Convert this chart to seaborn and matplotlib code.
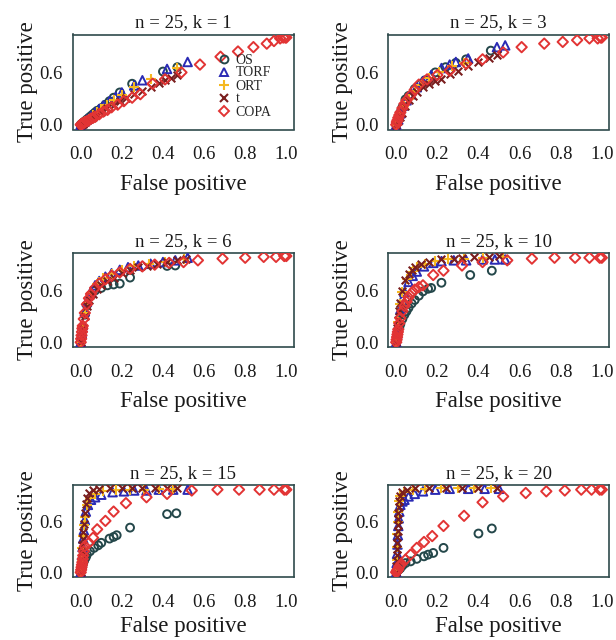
import matplotlib
matplotlib.use("Agg")
import matplotlib.pyplot as plt
from matplotlib.lines import Line2D
import seaborn as sns
import pandas as pd

# ---------------- data ----------------
methods = ["OS", "TORF", "ORT", "t", "COPA"]
k_values = [1, 3, 6, 10, 15, 20]
n_value = 25

# k = 1
k1_os_fp = [0.0, 0.005, 0.01, 0.02, 0.03, 0.04, 0.05, 0.06, 0.07, 0.08, 0.10, 0.12, 0.14, 0.16, 0.19, 0.25, 0.40, 0.47]
k1_os_tp = [0.0, 0.01, 0.02, 0.04, 0.06, 0.08, 0.10, 0.12, 0.14, 0.16, 0.19, 0.23, 0.27, 0.31, 0.37, 0.47, 0.61, 0.66]
k1_torf_fp = [0.0, 0.01, 0.02, 0.03, 0.05, 0.07, 0.09, 0.11, 0.14, 0.17, 0.20, 0.26, 0.30, 0.42, 0.52]
k1_torf_tp = [0.0, 0.02, 0.04, 0.06, 0.10, 0.14, 0.18, 0.22, 0.27, 0.32, 0.37, 0.45, 0.51, 0.64, 0.72]
k1_ort_fp = [0.0, 0.01, 0.02, 0.04, 0.06, 0.08, 0.10, 0.13, 0.16, 0.20, 0.26, 0.34, 0.47]
k1_ort_tp = [0.0, 0.02, 0.04, 0.07, 0.11, 0.15, 0.18, 0.23, 0.28, 0.34, 0.43, 0.53, 0.65]
k1_t_fp = [0.0, 0.01, 0.02, 0.04, 0.06, 0.08, 0.10, 0.13, 0.16, 0.19, 0.22, 0.26, 0.30, 0.34, 0.38, 0.41, 0.44, 0.47]
k1_t_tp = [0.0, 0.01, 0.03, 0.06, 0.09, 0.12, 0.15, 0.19, 0.23, 0.27, 0.31, 0.35, 0.39, 0.43, 0.48, 0.51, 0.54, 0.57]
k1_copa_fp = [0.0, 0.003, 0.006, 0.01, 0.015, 0.02, 0.03, 0.04, 0.05, 0.06, 0.07, 0.09, 0.11, 0.13, 0.15, 0.18, 0.21, 0.25, 0.29, 0.35, 0.41, 0.49, 0.58, 0.68, 0.765, 0.84, 0.905, 0.94, 0.97, 0.985, 0.995, 1.0]
k1_copa_tp = [0.0, 0.005, 0.01, 0.015, 0.02, 0.03, 0.04, 0.05, 0.07, 0.08, 0.09, 0.12, 0.15, 0.17, 0.20, 0.23, 0.27, 0.31, 0.35, 0.47, 0.52, 0.60, 0.69, 0.78, 0.84, 0.89, 0.93, 0.96, 0.99, 1.0, 1.0, 1.0]

# k = 3
k3_os_fp = [0.0, 0.005, 0.01, 0.015, 0.02, 0.03, 0.045, 0.06, 0.09, 0.12, 0.14, 0.19, 0.24, 0.29, 0.34, 0.46]
k3_os_tp = [0.0, 0.03, 0.07, 0.10, 0.14, 0.20, 0.29, 0.33, 0.41, 0.47, 0.51, 0.60, 0.66, 0.71, 0.75, 0.85]
k3_torf_fp = [0.0, 0.01, 0.02, 0.035, 0.05, 0.07, 0.10, 0.13, 0.17, 0.22, 0.26, 0.29, 0.35, 0.49, 0.53]
k3_torf_tp = [0.0, 0.06, 0.13, 0.22, 0.28, 0.35, 0.43, 0.50, 0.57, 0.65, 0.69, 0.72, 0.76, 0.89, 0.91]
k3_ort_fp = [0.0, 0.01, 0.02, 0.04, 0.06, 0.09, 0.12, 0.16, 0.21, 0.27, 0.33]
k3_ort_tp = [0.0, 0.05, 0.11, 0.21, 0.30, 0.39, 0.46, 0.54, 0.61, 0.67, 0.71]
k3_t_fp = [0.0, 0.01, 0.02, 0.03, 0.045, 0.06, 0.08, 0.10, 0.13, 0.16, 0.19, 0.22, 0.26, 0.30, 0.35, 0.40, 0.45, 0.49]
k3_t_tp = [0.0, 0.04, 0.09, 0.14, 0.22, 0.28, 0.33, 0.38, 0.43, 0.47, 0.50, 0.53, 0.58, 0.62, 0.67, 0.72, 0.76, 0.80]
k3_copa_fp = [0.0, 0.003, 0.006, 0.01, 0.015, 0.02, 0.03, 0.04, 0.05, 0.07, 0.09, 0.11, 0.15, 0.20, 0.26, 0.34, 0.42, 0.52, 0.61, 0.72, 0.81, 0.88, 0.94, 0.98, 0.995, 1.0]
k3_copa_tp = [0.0, 0.03, 0.05, 0.08, 0.11, 0.14, 0.19, 0.24, 0.28, 0.34, 0.40, 0.46, 0.52, 0.57, 0.62, 0.70, 0.75, 0.83, 0.89, 0.93, 0.95, 0.97, 0.99, 0.99, 1.0, 1.0]

# k = 6
k6_os_fp = [0.0, 0.005, 0.01, 0.02, 0.03, 0.05, 0.07, 0.10, 0.13, 0.16, 0.19, 0.24, 0.42, 0.46]
k6_os_tp = [0.0, 0.08, 0.17, 0.32, 0.43, 0.54, 0.60, 0.63, 0.66, 0.67, 0.68, 0.75, 0.885, 0.89]
k6_torf_fp = [0.0, 0.005, 0.01, 0.02, 0.03, 0.05, 0.07, 0.09, 0.12, 0.15, 0.19, 0.23, 0.28, 0.34, 0.40, 0.46, 0.52]
k6_torf_tp = [0.0, 0.10, 0.20, 0.36, 0.47, 0.59, 0.66, 0.71, 0.76, 0.80, 0.84, 0.87, 0.89, 0.91, 0.93, 0.95, 0.98]
k6_ort_fp = [0.0, 0.01, 0.02, 0.03, 0.05, 0.08, 0.11, 0.15, 0.20, 0.26, 0.33, 0.41, 0.50]
k6_ort_tp = [0.0, 0.19, 0.34, 0.45, 0.57, 0.68, 0.74, 0.79, 0.84, 0.88, 0.91, 0.93, 0.96]
k6_t_fp = [0.0, 0.005, 0.01, 0.02, 0.03, 0.04, 0.06, 0.08, 0.10, 0.13, 0.16, 0.20, 0.24, 0.28, 0.32, 0.37, 0.42, 0.47, 0.51]
k6_t_tp = [0.0, 0.08, 0.16, 0.30, 0.42, 0.49, 0.56, 0.62, 0.66, 0.71, 0.75, 0.80, 0.84, 0.87, 0.89, 0.91, 0.93, 0.95, 0.97]
k6_copa_fp = [0.0, 0.002, 0.004, 0.006, 0.008, 0.01, 0.015, 0.02, 0.03, 0.04, 0.05, 0.07, 0.09, 0.12, 0.15, 0.19, 0.24, 0.30, 0.36, 0.43, 0.50, 0.57, 0.69, 0.80, 0.89, 0.95, 0.99, 1.0]
k6_copa_tp = [0.0, 0.04, 0.08, 0.12, 0.16, 0.19, 0.27, 0.34, 0.44, 0.51, 0.56, 0.63, 0.68, 0.73, 0.77, 0.81, 0.85, 0.88, 0.90, 0.92, 0.93, 0.95, 0.97, 0.98, 0.99, 0.99, 1.0, 1.0]

# k = 10
k10_os_fp = [0.0, 0.003, 0.006, 0.01, 0.015, 0.02, 0.03, 0.04, 0.05, 0.06, 0.075, 0.09, 0.11, 0.13, 0.155, 0.17, 0.22, 0.36, 0.465]
k10_os_tp = [0.0, 0.04, 0.08, 0.12, 0.17, 0.21, 0.27, 0.32, 0.36, 0.40, 0.45, 0.49, 0.54, 0.59, 0.62, 0.63, 0.69, 0.78, 0.83]
k10_torf_fp = [0.0, 0.005, 0.01, 0.02, 0.03, 0.04, 0.06, 0.08, 0.10, 0.135, 0.18, 0.22, 0.28, 0.34, 0.42, 0.48, 0.53]
k10_torf_tp = [0.0, 0.10, 0.20, 0.38, 0.50, 0.58, 0.70, 0.77, 0.82, 0.88, 0.92, 0.94, 0.95, 0.95, 0.96, 0.96, 0.96]
k10_ort_fp = [0.0, 0.01, 0.02, 0.03, 0.05, 0.07, 0.10, 0.14, 0.19, 0.25, 0.33, 0.42, 0.52]
k10_ort_tp = [0.0, 0.24, 0.44, 0.58, 0.73, 0.81, 0.87, 0.91, 0.94, 0.96, 0.97, 0.98, 0.99]
k10_t_fp = [0.0, 0.003, 0.006, 0.01, 0.015, 0.02, 0.03, 0.045, 0.06, 0.075, 0.09, 0.12, 0.16, 0.22, 0.28, 0.32, 0.38, 0.45, 0.50]
k10_t_tp = [0.0, 0.08, 0.16, 0.26, 0.36, 0.46, 0.60, 0.72, 0.79, 0.84, 0.87, 0.91, 0.93, 0.96, 0.97, 0.98, 0.99, 0.99, 1.0]
k10_copa_fp = [0.0, 0.002, 0.004, 0.006, 0.008, 0.01, 0.015, 0.02, 0.03, 0.04, 0.05, 0.06, 0.075, 0.09, 0.11, 0.13, 0.18, 0.23, 0.32, 0.42, 0.54, 0.66, 0.77, 0.87, 0.94, 0.99, 1.0]
k10_copa_tp = [0.0, 0.03, 0.06, 0.09, 0.12, 0.15, 0.22, 0.28, 0.36, 0.42, 0.47, 0.52, 0.57, 0.61, 0.64, 0.66, 0.78, 0.83, 0.89, 0.93, 0.95, 0.97, 0.98, 0.98, 0.98, 0.98, 0.98]

# k = 15
k15_os_fp = [0.0, 0.002, 0.004, 0.006, 0.008, 0.01, 0.013, 0.016, 0.02, 0.025, 0.03, 0.045, 0.065, 0.085, 0.10, 0.14, 0.16, 0.175, 0.24, 0.42, 0.465]
k15_os_tp = [0.0, 0.02, 0.04, 0.06, 0.08, 0.10, 0.12, 0.14, 0.16, 0.18, 0.21, 0.25, 0.29, 0.32, 0.35, 0.40, 0.42, 0.44, 0.53, 0.69, 0.70]
k15_torf_fp = [0.0, 0.003, 0.006, 0.009, 0.012, 0.015, 0.02, 0.025, 0.035, 0.05, 0.07, 0.10, 0.155, 0.21, 0.26, 0.32, 0.38, 0.45, 0.52]
k15_torf_tp = [0.0, 0.10, 0.20, 0.30, 0.40, 0.50, 0.62, 0.72, 0.80, 0.86, 0.89, 0.92, 0.95, 0.96, 0.97, 0.97, 0.98, 0.98, 0.98]
k15_ort_fp = [0.0, 0.004, 0.008, 0.012, 0.016, 0.02, 0.03, 0.045, 0.07, 0.11, 0.17, 0.24, 0.31, 0.38, 0.45]
k15_ort_tp = [0.0, 0.14, 0.29, 0.43, 0.56, 0.66, 0.80, 0.88, 0.93, 0.96, 0.97, 0.98, 0.98, 0.99, 0.99]
k15_t_fp = [0.0, 0.002, 0.004, 0.006, 0.008, 0.01, 0.012, 0.015, 0.02, 0.025, 0.03, 0.04, 0.06, 0.09, 0.14, 0.20, 0.25, 0.30, 0.36, 0.42, 0.47]
k15_t_tp = [0.0, 0.08, 0.16, 0.24, 0.32, 0.40, 0.48, 0.57, 0.70, 0.81, 0.88, 0.94, 0.98, 0.99, 1.0, 1.0, 1.0, 1.0, 1.0, 1.0, 1.0]
k15_copa_fp = [0.0, 0.002, 0.004, 0.006, 0.008, 0.01, 0.012, 0.015, 0.02, 0.04, 0.06, 0.08, 0.12, 0.16, 0.22, 0.32, 0.42, 0.54, 0.665, 0.77, 0.87, 0.94, 0.99, 1.0]
k15_copa_tp = [0.0, 0.03, 0.06, 0.09, 0.12, 0.16, 0.20, 0.25, 0.31, 0.35, 0.41, 0.51, 0.61, 0.72, 0.82, 0.89, 0.93, 0.97, 0.98, 0.98, 0.98, 0.98, 0.98, 0.98]

# k = 20
k20_os_fp = [0.0, 0.003, 0.006, 0.01, 0.015, 0.02, 0.03, 0.045, 0.07, 0.10, 0.135, 0.155, 0.18, 0.23, 0.40, 0.465]
k20_os_tp = [0.0, 0.01, 0.02, 0.03, 0.04, 0.05, 0.08, 0.11, 0.13, 0.16, 0.19, 0.21, 0.23, 0.29, 0.46, 0.52]
k20_torf_fp = [0.0, 0.002, 0.004, 0.006, 0.008, 0.01, 0.012, 0.015, 0.02, 0.03, 0.04, 0.06, 0.09, 0.13, 0.19, 0.26, 0.35, 0.43, 0.50]
k20_torf_tp = [0.0, 0.11, 0.22, 0.33, 0.44, 0.55, 0.64, 0.72, 0.80, 0.84, 0.86, 0.90, 0.93, 0.96, 0.98, 0.99, 0.99, 0.99, 0.99]
k20_ort_fp = [0.0, 0.002, 0.004, 0.006, 0.008, 0.01, 0.015, 0.02, 0.04, 0.08, 0.14, 0.22, 0.30, 0.38, 0.46]
k20_ort_tp = [0.0, 0.15, 0.30, 0.45, 0.60, 0.72, 0.84, 0.90, 0.95, 0.98, 0.99, 1.0, 1.0, 1.0, 1.0]
k20_t_fp = [0.0, 0.001, 0.002, 0.003, 0.004, 0.005, 0.006, 0.007, 0.008, 0.009, 0.01, 0.012, 0.015, 0.02, 0.03, 0.05, 0.09, 0.16, 0.24, 0.32, 0.40, 0.49]
k20_t_tp = [0.0, 0.07, 0.14, 0.21, 0.28, 0.35, 0.42, 0.49, 0.56, 0.63, 0.70, 0.77, 0.84, 0.90, 0.95, 0.98, 1.0, 1.0, 1.0, 1.0, 1.0, 1.0]
k20_copa_fp = [0.0, 0.002, 0.004, 0.007, 0.01, 0.015, 0.025, 0.045, 0.07, 0.10, 0.135, 0.175, 0.23, 0.33, 0.42, 0.52, 0.63, 0.73, 0.82, 0.90, 0.95, 0.99, 1.0]
k20_copa_tp = [0.0, 0.01, 0.02, 0.03, 0.04, 0.07, 0.10, 0.15, 0.21, 0.29, 0.36, 0.43, 0.55, 0.67, 0.83, 0.90, 0.94, 0.96, 0.97, 0.98, 0.98, 0.98, 0.98]

y_ticks = [0.0, 0.2, 0.4, 0.6, 0.8, 1.0]
y_tick_labels = ["0.0", "", "", "0.6", "", ""]
x_ticks = [0.0, 0.2, 0.4, 0.6, 0.8, 1.0]
x_tick_labels = ["0.0", "0.2", "0.4", "0.6", "0.8", "1.0"]

# ---------------- assemble ----------------
panels = {
    1: [(k1_os_fp, k1_os_tp), (k1_torf_fp, k1_torf_tp), (k1_ort_fp, k1_ort_tp), (k1_t_fp, k1_t_tp), (k1_copa_fp, k1_copa_tp)],
    3: [(k3_os_fp, k3_os_tp), (k3_torf_fp, k3_torf_tp), (k3_ort_fp, k3_ort_tp), (k3_t_fp, k3_t_tp), (k3_copa_fp, k3_copa_tp)],
    6: [(k6_os_fp, k6_os_tp), (k6_torf_fp, k6_torf_tp), (k6_ort_fp, k6_ort_tp), (k6_t_fp, k6_t_tp), (k6_copa_fp, k6_copa_tp)],
    10: [(k10_os_fp, k10_os_tp), (k10_torf_fp, k10_torf_tp), (k10_ort_fp, k10_ort_tp), (k10_t_fp, k10_t_tp), (k10_copa_fp, k10_copa_tp)],
    15: [(k15_os_fp, k15_os_tp), (k15_torf_fp, k15_torf_tp), (k15_ort_fp, k15_ort_tp), (k15_t_fp, k15_t_tp), (k15_copa_fp, k15_copa_tp)],
    20: [(k20_os_fp, k20_os_tp), (k20_torf_fp, k20_torf_tp), (k20_ort_fp, k20_ort_tp), (k20_t_fp, k20_t_tp), (k20_copa_fp, k20_copa_tp)],
}

rows = []
for k, series in panels.items():
    for m, (fp, tp) in zip(methods, series):
        for a, b in zip(fp, tp):
            rows.append({"k": k, "method": m, "fp": a, "tp": b})
df = pd.DataFrame(rows)

# ---------------- style ----------------
sns.set_style("white")
plt.rcParams["font.family"] = ["Liberation Serif", "DejaVu Serif"]

styles = {
    "OS":   dict(marker="o", color="#24474a", open=True, s=32),
    "TORF": dict(marker="^", color="#2a2ab4", open=True, s=38),
    "ORT":  dict(marker="+", color="#f5b820", open=False, s=48),
    "t":    dict(marker="x", color="#7a1e1e", open=False, s=30),
    "COPA": dict(marker="D", color="#e23434", open=True, s=28),
}
box_color = "#2f4a4c"
text_color = "#1a1a1a"

W, H = 616, 640
fig = plt.figure(figsize=(W / 100, H / 100), dpi=100)
fig.patch.set_facecolor("white")

col_left = [72.5, 388.0]
col_w = 221.0
row_top = [34.5, 253.0, 485.0]
row_h = [95.0, 94.0, 92.0]
xlabel_pad = [7.5, 7.5, 4.0]

for idx, k in enumerate(k_values):
    r, c = divmod(idx, 2)
    l = col_left[c] / W
    b = (H - row_top[r] - row_h[r]) / H
    ax = fig.add_axes([l, b, col_w / W, row_h[r] / H])
    sub = df[df["k"] == k]
    for m in methods:
        st = styles[m]
        d = sub[sub["method"] == m]
        if st["open"]:
            sns.scatterplot(data=d, x="fp", y="tp", ax=ax, marker=st["marker"], s=st["s"],
                            color=st["color"], facecolor="none", edgecolor=st["color"],
                            linewidth=1.4, legend=False, zorder=3)
        else:
            sns.scatterplot(data=d, x="fp", y="tp", ax=ax, marker=st["marker"], s=st["s"],
                            color=st["color"], linewidth=1.5, legend=False, zorder=3)
    ax.set_xlim(-0.04, 1.035)
    ax.set_ylim(-0.055, 1.035)
    ax.set_xticks(x_ticks)
    ax.set_xticklabels(x_tick_labels)
    ax.set_yticks(y_ticks)
    ax.set_yticklabels(y_tick_labels)
    ax.tick_params(axis="both", direction="out", length=5.5, width=1.0, color=box_color,
                   labelsize=13.5, labelcolor=text_color)
    ax.tick_params(axis="x", pad=6.5)
    ax.tick_params(axis="y", pad=1.5)
    for sp in ax.spines.values():
        sp.set_visible(True)
        sp.set_color(box_color)
        sp.set_linewidth(1.2)
    ax.set_xlabel("False positive", fontsize=16.5, color=text_color, labelpad=xlabel_pad[r])
    ax.set_ylabel("True positive", fontsize=16.5, color=text_color, labelpad=1)
    ax.set_title(f"n = {n_value}, k = {k}", fontsize=13.5, color=text_color, pad=5)

    if k == 1:
        handles = []
        for m in methods:
            st = styles[m]
            if st["open"]:
                h = Line2D([], [], linestyle="none", marker=st["marker"], markersize=st["s"] ** 0.5,
                           markerfacecolor="none", markeredgecolor=st["color"], markeredgewidth=1.4)
            else:
                h = Line2D([], [], linestyle="none", marker=st["marker"], markersize=st["s"] ** 0.5,
                           color=st["color"], markeredgewidth=1.5)
            handles.append(h)
        ax.legend(handles, methods, loc="upper left", bbox_to_anchor=(0.66, 0.80),
                  frameon=False, fontsize=10, handlelength=0.8, handletextpad=0.45,
                  labelspacing=0.0, borderpad=0, borderaxespad=0)

fig.savefig("out.png", dpi=100, facecolor="white")
